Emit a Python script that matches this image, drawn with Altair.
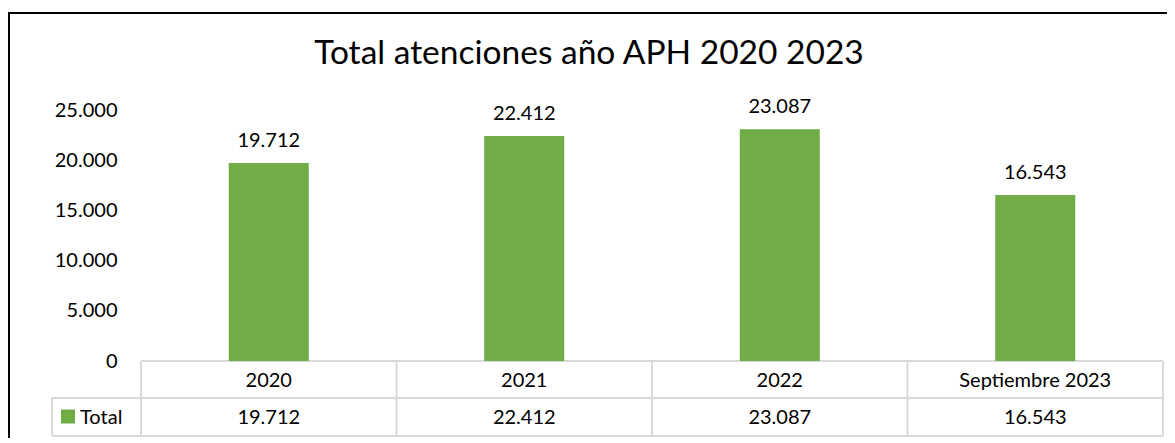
import altair as alt
import pandas as pd

categories = ["2020", "2021", "2022", "Septiembre 2023"]
totals = [19712, 22412, 23087, 16543]
y_ticks = [0, 5000, 10000, 15000, 20000, 25000]
series_name = "Total"
title_text = "Total atenciones año APH 2020 2023"

df = pd.DataFrame({"cat": categories, "total": totals})
one = pd.DataFrame({"a": [0]})

W, H = 1022, 251
FONT = "Lato"
GREEN = "#70AD47"
GRID = "#D9D9D9"
FS = 20

lab = "replace(format(datum.total, ','), ',', '.')"

xenc = alt.X("cat:N", sort=categories, axis=None,
             scale=alt.Scale(paddingInner=0, paddingOuter=0))
yenc = alt.Y("total:Q", scale=alt.Scale(domain=[0, 25000], nice=False),
             axis=alt.Axis(values=y_ticks,
                           labelExpr="replace(format(datum.value, ','), ',', '.')",
                           domain=False, ticks=False, tickSize=0, grid=False,
                           labelFont=FONT, labelFontSize=FS, labelColor="black",
                           labelPadding=24, title=None))

base = alt.Chart(df)

bars = base.mark_bar(size=80, color=GREEN).encode(x=xenc, y=yenc)

bar_labels = base.transform_calculate(lbl=lab).mark_text(
    font=FONT, fontSize=FS, baseline="alphabetic", dy=-16, color="black"
).encode(x=xenc, y=alt.Y("total:Q"), text="lbl:N")

cat_row = base.mark_text(font=FONT, fontSize=FS, baseline="alphabetic", color="black").encode(
    x=xenc, y=alt.value(277), text="cat:N")

val_row = base.transform_calculate(lbl=lab).mark_text(
    font=FONT, fontSize=FS, baseline="alphabetic", color="black"
).encode(x=xenc, y=alt.value(314), text="lbl:N")

vlines = base.mark_rule(color=GRID, strokeWidth=2).encode(
    x=alt.X("cat:N", sort=categories, bandPosition=0, axis=None),
    y=alt.value(H), y2=alt.value(H + 75))


def rule(x1, x2, y1, y2, color=GRID, sw=2):
    return alt.Chart(one).mark_rule(color=color, strokeWidth=sw).encode(
        x=alt.value(x1), x2=alt.value(x2), y=alt.value(y1), y2=alt.value(y2))


table_rules = [
    rule(0, W, H, H),
    rule(-89, W, H + 37, H + 37),
    rule(-89, W, H + 75, H + 75),
    rule(W, W, H, H + 75),
    rule(-89, -89, H + 37, H + 75),
]

legend_sq = alt.Chart(one).mark_square(size=196, color=GREEN, opacity=1).encode(
    x=alt.value(-73), y=alt.value(306.5))
legend_txt = alt.Chart(one).mark_text(font=FONT, fontSize=FS, baseline="alphabetic",
                                      align="left", color="black").encode(
    x=alt.value(-61), y=alt.value(314), text=alt.value(series_name))

title = alt.Chart(one).mark_text(font=FONT, fontSize=33.5, baseline="alphabetic",
                                 align="center", color="black").encode(
    x=alt.value(448), y=alt.value(-46), text=alt.value(title_text))

border = [
    rule(-133, W + 20, -97, -97, color="black", sw=2),
    rule(-132, -132, -97, H + 100, color="black", sw=2),
]

chart = alt.layer(
    *table_rules, vlines, bars, bar_labels, cat_row, val_row,
    legend_sq, legend_txt, title, *border
).properties(
    width=W, height=H,
    autosize=alt.AutoSizeParams(type="none"),
    padding={"left": 133, "top": 102, "right": 4, "bottom": 77},
).configure_view(strokeWidth=0)

chart.save("out.html", embed_options={"renderer": "svg", "actions": False})
